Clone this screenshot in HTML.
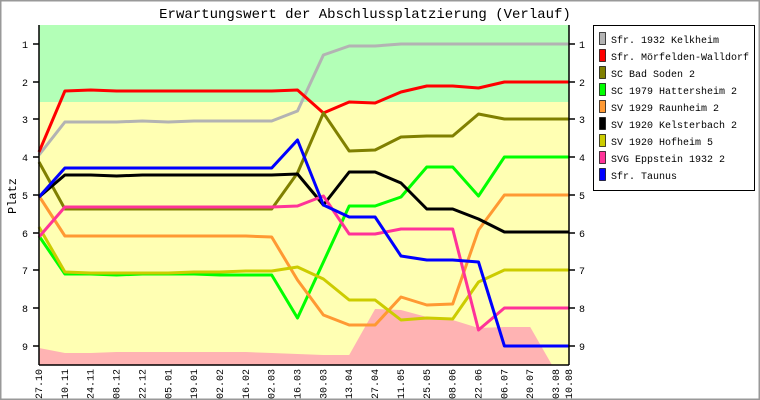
<!DOCTYPE html>
<html><head><meta charset="utf-8"><style>
html,body{margin:0;padding:0;background:#fff}
svg{display:block}
text{font-family:"Liberation Mono",monospace;font-size:10px;fill:#000}
</style></head><body>
<svg width="760" height="400" viewBox="0 0 760 400" xmlns="http://www.w3.org/2000/svg">
<rect x="0.5" y="0.5" width="759" height="399" fill="#fff" stroke="#999" stroke-width="2"/>
<text x="365" y="18" text-anchor="middle" style="font-size:14px">Erwartungswert der Abschlussplatzierung (Verlauf)</text>
<rect x="39" y="25" width="530" height="77" fill="#b3ffb7"/>
<rect x="39" y="102" width="530" height="263" fill="#ffffb3"/>
<polygon fill="#ffb3b3" points="39,365 39,348 64.9,353 90.7,353 116.6,352 142.4,352 168.3,352 194.1,352 220,352 245.8,352 271.7,353 297.5,354 323.4,355 349.2,355 375.1,309 401,310 426.8,317 452.7,320 478.5,328 504.4,327 530.2,327 552,365"/>
<g fill="none" stroke-width="3" stroke-linejoin="round">
<polyline stroke="#b3b3b3" points="39,155 64.9,122 90.7,122 116.6,122 142.4,121 168.3,122 194.1,121 220,121 245.8,121 271.7,121 297.5,111 323.4,55 349.2,46 375.1,46 401,44 426.8,44 452.7,44 478.5,44 504.4,44 530.2,44 556.1,44 569,44"/>
<polyline stroke="#ff0000" points="39,152 64.9,91 90.7,90 116.6,91 142.4,91 168.3,91 194.1,91 220,91 245.8,91 271.7,91 297.5,90 323.4,113 349.2,102 375.1,103 401,92 426.8,86 452.7,86 478.5,88 504.4,82 530.2,82 556.1,82 569,82"/>
<polyline stroke="#808000" points="39,162 64.9,209 90.7,209 116.6,209 142.4,209 168.3,209 194.1,209 220,209 245.8,209 271.7,209 297.5,173 323.4,113 349.2,151 375.1,150 401,137 426.8,136 452.7,136 478.5,114 504.4,119 530.2,119 556.1,119 569,119"/>
<polyline stroke="#00ff00" points="39,236 64.9,274 90.7,274 116.6,275 142.4,274 168.3,274 194.1,274 220,275 245.8,275 271.7,275 297.5,318 323.4,262 349.2,206 375.1,206 401,197 426.8,167 452.7,167 478.5,196 504.4,157 530.2,157 556.1,157 569,157"/>
<polyline stroke="#ff9933" points="39,196 64.9,236 90.7,236 116.6,236 142.4,236 168.3,236 194.1,236 220,236 245.8,236 271.7,237 297.5,280 323.4,315 349.2,325 375.1,325 401,297 426.8,305 452.7,304 478.5,230 504.4,195 530.2,195 556.1,195 569,195"/>
<polyline stroke="#000000" points="39,197 64.9,175 90.7,175 116.6,176 142.4,175 168.3,175 194.1,175 220,175 245.8,175 271.7,175 297.5,174 323.4,205 349.2,172 375.1,172 401,183 426.8,209 452.7,209 478.5,219 504.4,232 530.2,232 556.1,232 569,232"/>
<polyline stroke="#cccc00" points="39,227 64.9,272 90.7,273 116.6,273 142.4,273 168.3,273 194.1,272 220,272 245.8,271 271.7,271 297.5,267 323.4,279 349.2,300 375.1,300 401,320 426.8,318 452.7,319 478.5,282 504.4,270 530.2,270 556.1,270 569,270"/>
<polyline stroke="#ff3399" points="39,237 64.9,207 90.7,207 116.6,207 142.4,207 168.3,207 194.1,207 220,207 245.8,207 271.7,207 297.5,206 323.4,196 349.2,234 375.1,234 401,229 426.8,229 452.7,229 478.5,330 504.4,308 530.2,308 556.1,308 569,308"/>
<polyline stroke="#0000ff" points="39,197 64.9,168 90.7,168 116.6,168 142.4,168 168.3,168 194.1,168 220,168 245.8,168 271.7,168 297.5,140 323.4,205 349.2,217 375.1,217 401,256 426.8,260 452.7,260 478.5,262 504.4,346 530.2,346 556.1,346 569,346"/>
</g>
<g stroke="#000" stroke-width="1.5">
<line x1="39" y1="25" x2="39" y2="365"/><line x1="569" y1="25" x2="569" y2="365"/>
<line x1="39" y1="365" x2="569" y2="365"/>
<path d="M33 44h6M33 82h6M33 119h6M33 157h6M33 195h6M33 233h6M33 270h6M33 308h6M33 346h6M569 44h6M569 82h6M569 119h6M569 157h6M569 195h6M569 233h6M569 270h6M569 308h6M569 346h6"/>
</g>
<g text-anchor="end">
<text x="28" y="48">1</text><text x="28" y="86">2</text><text x="28" y="123">3</text><text x="28" y="161">4</text><text x="28" y="199">5</text><text x="28" y="237">6</text><text x="28" y="274">7</text><text x="28" y="312">8</text><text x="28" y="350">9</text>
</g>
<g>
<text x="579" y="48">1</text><text x="579" y="86">2</text><text x="579" y="123">3</text><text x="579" y="161">4</text><text x="579" y="199">5</text><text x="579" y="237">6</text><text x="579" y="274">7</text><text x="579" y="312">8</text><text x="579" y="350">9</text>
</g>
<text transform="translate(16,196) rotate(-90)" text-anchor="middle" style="font-size:12px">Platz</text>
<g style="font-size:10px" text-anchor="end">
<text transform="translate(42,369) rotate(-90)">27.10</text>
<text transform="translate(67.9,369) rotate(-90)">10.11</text>
<text transform="translate(93.7,369) rotate(-90)">24.11</text>
<text transform="translate(119.6,369) rotate(-90)">08.12</text>
<text transform="translate(145.4,369) rotate(-90)">22.12</text>
<text transform="translate(171.3,369) rotate(-90)">05.01</text>
<text transform="translate(197.1,369) rotate(-90)">19.01</text>
<text transform="translate(223,369) rotate(-90)">02.02</text>
<text transform="translate(248.8,369) rotate(-90)">16.02</text>
<text transform="translate(274.7,369) rotate(-90)">02.03</text>
<text transform="translate(300.5,369) rotate(-90)">16.03</text>
<text transform="translate(326.4,369) rotate(-90)">30.03</text>
<text transform="translate(352.2,369) rotate(-90)">13.04</text>
<text transform="translate(378.1,369) rotate(-90)">27.04</text>
<text transform="translate(404,369) rotate(-90)">11.05</text>
<text transform="translate(429.8,369) rotate(-90)">25.05</text>
<text transform="translate(455.7,369) rotate(-90)">08.06</text>
<text transform="translate(481.5,369) rotate(-90)">22.06</text>
<text transform="translate(507.4,369) rotate(-90)">06.07</text>
<text transform="translate(533.2,369) rotate(-90)">20.07</text>
<text transform="translate(559.1,369) rotate(-90)">03.08</text>
<text transform="translate(572,369) rotate(-90)">10.08</text>
</g>
<rect x="593.5" y="25.5" width="161" height="165" fill="#fff" stroke="#000"/>
<g stroke="#000" stroke-width="0.7">
<rect x="599.5" y="32.5" width="6" height="12" fill="#b3b3b3"/>
<rect x="599.5" y="49.5" width="6" height="12" fill="#ff0000"/>
<rect x="599.5" y="66.5" width="6" height="12" fill="#808000"/>
<rect x="599.5" y="83.5" width="6" height="12" fill="#00ff00"/>
<rect x="599.5" y="100.5" width="6" height="12" fill="#ff9933"/>
<rect x="599.5" y="117.5" width="6" height="12" fill="#000000"/>
<rect x="599.5" y="134.5" width="6" height="12" fill="#cccc00"/>
<rect x="599.5" y="151.5" width="6" height="12" fill="#ff3399"/>
<rect x="599.5" y="168.5" width="6" height="12" fill="#0000ff"/>
</g>
<g>
<text x="611" y="43">Sfr. 1932 Kelkheim</text>
<text x="611" y="60">Sfr. Mörfelden-Walldorf</text>
<text x="611" y="77">SC Bad Soden 2</text>
<text x="611" y="94">SC 1979 Hattersheim 2</text>
<text x="611" y="111">SV 1929 Raunheim 2</text>
<text x="611" y="128">SV 1920 Kelsterbach 2</text>
<text x="611" y="145">SV 1920 Hofheim 5</text>
<text x="611" y="162">SVG Eppstein 1932 2</text>
<text x="611" y="179">Sfr. Taunus</text>
</g>
</svg>
</body></html>
